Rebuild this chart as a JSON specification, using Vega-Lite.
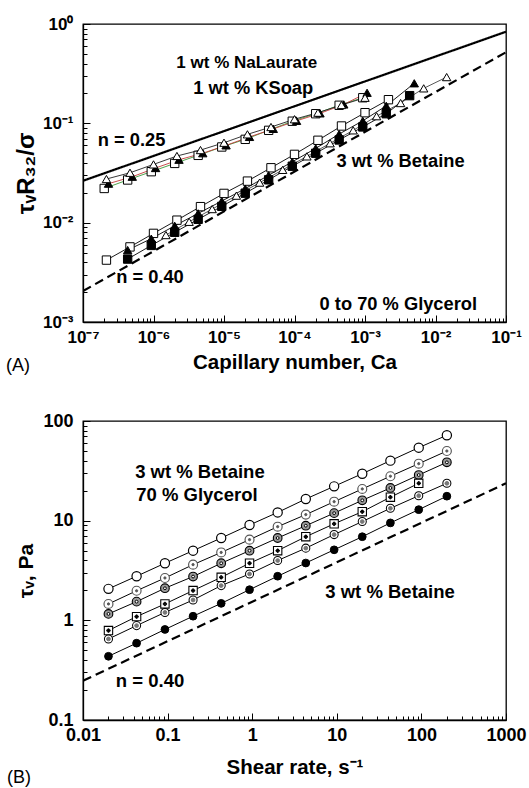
{
  "$schema": "https://vega.github.io/schema/vega-lite/v6.json",
  "padding": {"left": 5, "top": 14, "right": 5, "bottom": 5},
  "spacing": 35,
  "resolve": {"scale": {"shape": "independent", "fill": "independent", "stroke": "independent", "size": "independent", "strokeWidth": "independent", "color": "independent", "strokeDash": "independent"}},
  "config": {
    "font": "Liberation Sans",
    "view": {"stroke": "black", "strokeWidth": 1.3},
    "axis": {
      "domainColor": "black", "domainWidth": 1.3, "tickColor": "black", "tickWidth": 1,
      "labelColor": "black", "titleColor": "black", "labelFont": "Liberation Sans", "titleFont": "Liberation Sans",
      "labelFontWeight": "bold", "labelFontSize": 17, "titleFontWeight": "bold", "titleFontSize": 20,
      "grid": false, "labelFlush": false, "labelOverlap": false
    }
  },
  "datasets": {
    "topLines": [
      {"name": "n025", "x": 1e-7, "y": 0.0264}, {"name": "n025", "x": 0.1, "y": 0.836},
      {"name": "n040", "x": 1e-7, "y": 0.00205}, {"name": "n040", "x": 0.1, "y": 0.52}
    ],
    "topPts": [
      {"s": "Ub", "x": 2e-7, "y": 0.0221}, {"s": "Ub", "x": 4.3e-7, "y": 0.0269}, {"s": "Ub", "x": 9.3e-7, "y": 0.0326}, {"s": "Ub", "x": 2e-6, "y": 0.0395}, {"s": "Ub", "x": 4.3e-6, "y": 0.0476}, {"s": "Ub", "x": 9.3e-6, "y": 0.0578}, {"s": "Ub", "x": 2e-5, "y": 0.069}, {"s": "Ub", "x": 4.3e-5, "y": 0.085}, {"s": "Ub", "x": 9.3e-5, "y": 0.105}, {"s": "Ub", "x": 2e-4, "y": 0.125}, {"s": "Ub", "x": 4.3e-4, "y": 0.152}, {"s": "Ub", "x": 9.3e-4, "y": 0.181},
      {"s": "Uc", "x": 2.3e-7, "y": 0.0247}, {"s": "Uc", "x": 5e-7, "y": 0.029}, {"s": "Uc", "x": 1.07e-6, "y": 0.0355}, {"s": "Uc", "x": 2.3e-6, "y": 0.043}, {"s": "Uc", "x": 5e-6, "y": 0.05}, {"s": "Uc", "x": 1.07e-5, "y": 0.06}, {"s": "Uc", "x": 2.3e-5, "y": 0.073}, {"s": "Uc", "x": 5e-5, "y": 0.088}, {"s": "Uc", "x": 1.07e-4, "y": 0.106}, {"s": "Uc", "x": 2.3e-4, "y": 0.126}, {"s": "Uc", "x": 5e-4, "y": 0.155}, {"s": "Uc", "x": 1.07e-3, "y": 0.203},
      {"s": "Ua", "x": 2.15e-7, "y": 0.0275}, {"s": "Ua", "x": 4.64e-7, "y": 0.0318}, {"s": "Ua", "x": 1e-6, "y": 0.0386}, {"s": "Ua", "x": 2.15e-6, "y": 0.0469}, {"s": "Ua", "x": 4.64e-6, "y": 0.0538}, {"s": "Ua", "x": 1e-5, "y": 0.0638}, {"s": "Ua", "x": 2.15e-5, "y": 0.0775}, {"s": "Ua", "x": 4.64e-5, "y": 0.0918}, {"s": "Ua", "x": 1e-4, "y": 0.11}, {"s": "Ua", "x": 2.15e-4, "y": 0.128}, {"s": "Ua", "x": 4.64e-4, "y": 0.153}, {"s": "Ua", "x": 1e-3, "y": 0.181},
      {"s": "Ld", "x": 1.5e-6, "y": 0.0075}, {"s": "Ld", "x": 3.2e-6, "y": 0.0102}, {"s": "Ld", "x": 6.8e-6, "y": 0.0137}, {"s": "Ld", "x": 1.5e-5, "y": 0.0187}, {"s": "Ld", "x": 3.2e-5, "y": 0.0253}, {"s": "Ld", "x": 6.8e-5, "y": 0.034}, {"s": "Ld", "x": 1.5e-4, "y": 0.0465}, {"s": "Ld", "x": 3.2e-4, "y": 0.063}, {"s": "Ld", "x": 6.8e-4, "y": 0.085}, {"s": "Ld", "x": 1.46e-3, "y": 0.118}, {"s": "Ld", "x": 3.2e-3, "y": 0.16}, {"s": "Ld", "x": 6.8e-3, "y": 0.225}, {"s": "Ld", "x": 1.44e-2, "y": 0.292},
      {"s": "La", "x": 2.15e-7, "y": 0.0042}, {"s": "La", "x": 4.64e-7, "y": 0.0057}, {"s": "La", "x": 1e-6, "y": 0.0078}, {"s": "La", "x": 2.15e-6, "y": 0.0106}, {"s": "La", "x": 4.64e-6, "y": 0.0145}, {"s": "La", "x": 1e-5, "y": 0.0197}, {"s": "La", "x": 2.15e-5, "y": 0.0262}, {"s": "La", "x": 4.64e-5, "y": 0.0357}, {"s": "La", "x": 1e-4, "y": 0.0487}, {"s": "La", "x": 2.15e-4, "y": 0.0675}, {"s": "La", "x": 4.64e-4, "y": 0.094}, {"s": "La", "x": 1e-3, "y": 0.128}, {"s": "La", "x": 2.15e-3, "y": 0.173},
      {"s": "Lc", "x": 4.3e-7, "y": 0.0043}, {"s": "Lc", "x": 9.3e-7, "y": 0.0059}, {"s": "Lc", "x": 2e-6, "y": 0.008}, {"s": "Lc", "x": 4.3e-6, "y": 0.0108}, {"s": "Lc", "x": 9.3e-6, "y": 0.0146}, {"s": "Lc", "x": 2e-5, "y": 0.0198}, {"s": "Lc", "x": 4.3e-5, "y": 0.027}, {"s": "Lc", "x": 9.3e-5, "y": 0.037}, {"s": "Lc", "x": 2e-4, "y": 0.05}, {"s": "Lc", "x": 4.3e-4, "y": 0.068}, {"s": "Lc", "x": 9.3e-4, "y": 0.092}, {"s": "Lc", "x": 2e-3, "y": 0.125}, {"s": "Lc", "x": 4.3e-3, "y": 0.19},
      {"s": "Lb", "x": 4.3e-7, "y": 0.0053}, {"s": "Lb", "x": 9.3e-7, "y": 0.0069}, {"s": "Lb", "x": 2e-6, "y": 0.0093}, {"s": "Lb", "x": 4.3e-6, "y": 0.0124}, {"s": "Lb", "x": 9.3e-6, "y": 0.0165}, {"s": "Lb", "x": 2e-5, "y": 0.022}, {"s": "Lb", "x": 4.3e-5, "y": 0.03}, {"s": "Lb", "x": 9.3e-5, "y": 0.041}, {"s": "Lb", "x": 2e-4, "y": 0.056}, {"s": "Lb", "x": 4.3e-4, "y": 0.078}, {"s": "Lb", "x": 9.3e-4, "y": 0.106}, {"s": "Lb", "x": 2e-3, "y": 0.15}, {"s": "Lb", "x": 5e-3, "y": 0.253}
    ],
    "topText": [
      {"label": "1 wt % NaLaurate", "x": 2.1e-5, "y": 0.408},
      {"label": "1 wt % KSoap", "x": 2.6e-5, "y": 0.22},
      {"label": "n = 0.25", "x": 4.9e-7, "y": 0.0664},
      {"label": "3 wt % Betaine", "x": 3.2e-3, "y": 0.0407},
      {"label": "n = 0.40", "x": 8.9e-7, "y": 0.00275},
      {"label": "0 to 70 % Glycerol", "x": 2.97e-3, "y": 0.0015}
    ],
    "botLine": [
      {"name": "n040", "x": 0.01, "y": 0.248}, {"name": "n040", "x": 1000, "y": 23.7}
    ],
    "botPts": [
      {"s": "b1", "x": 0.02, "y": 2.07}, {"s": "b1", "x": 0.043, "y": 2.77}, {"s": "b1", "x": 0.093, "y": 3.74}, {"s": "b1", "x": 0.2, "y": 5.0}, {"s": "b1", "x": 0.43, "y": 6.7}, {"s": "b1", "x": 0.93, "y": 9.05}, {"s": "b1", "x": 2, "y": 12.1}, {"s": "b1", "x": 4.3, "y": 16.5}, {"s": "b1", "x": 9.3, "y": 22.1}, {"s": "b1", "x": 20, "y": 29.6}, {"s": "b1", "x": 43, "y": 40}, {"s": "b1", "x": 93, "y": 54}, {"s": "b1", "x": 200, "y": 72},
      {"s": "b2", "x": 0.02, "y": 1.46}, {"s": "b2", "x": 0.043, "y": 1.98}, {"s": "b2", "x": 0.093, "y": 2.66}, {"s": "b2", "x": 0.2, "y": 3.62}, {"s": "b2", "x": 0.43, "y": 4.8}, {"s": "b2", "x": 0.93, "y": 6.45}, {"s": "b2", "x": 2, "y": 8.7}, {"s": "b2", "x": 4.3, "y": 11.5}, {"s": "b2", "x": 9.3, "y": 15.5}, {"s": "b2", "x": 20, "y": 20.8}, {"s": "b2", "x": 43, "y": 27.9}, {"s": "b2", "x": 93, "y": 37.3}, {"s": "b2", "x": 200, "y": 50},
      {"s": "b3", "x": 0.02, "y": 1.16}, {"s": "b3", "x": 0.043, "y": 1.54}, {"s": "b3", "x": 0.093, "y": 2.1}, {"s": "b3", "x": 0.2, "y": 2.75}, {"s": "b3", "x": 0.43, "y": 3.74}, {"s": "b3", "x": 0.93, "y": 5.0}, {"s": "b3", "x": 2, "y": 6.7}, {"s": "b3", "x": 4.3, "y": 8.9}, {"s": "b3", "x": 9.3, "y": 11.9}, {"s": "b3", "x": 20, "y": 16}, {"s": "b3", "x": 43, "y": 21.3}, {"s": "b3", "x": 93, "y": 28.7}, {"s": "b3", "x": 200, "y": 38.5},
      {"s": "b4", "x": 0.02, "y": 0.79}, {"s": "b4", "x": 0.043, "y": 1.09}, {"s": "b4", "x": 0.093, "y": 1.46}, {"s": "b4", "x": 0.2, "y": 1.99}, {"s": "b4", "x": 0.43, "y": 2.7}, {"s": "b4", "x": 0.93, "y": 3.74}, {"s": "b4", "x": 2, "y": 5.0}, {"s": "b4", "x": 4.3, "y": 6.9}, {"s": "b4", "x": 9.3, "y": 9.3}, {"s": "b4", "x": 20, "y": 12.3}, {"s": "b4", "x": 43, "y": 17.2}, {"s": "b4", "x": 93, "y": 23.7},
      {"s": "b5", "x": 0.02, "y": 0.65}, {"s": "b5", "x": 0.043, "y": 0.885}, {"s": "b5", "x": 0.093, "y": 1.2}, {"s": "b5", "x": 0.2, "y": 1.6}, {"s": "b5", "x": 0.43, "y": 2.23}, {"s": "b5", "x": 0.93, "y": 2.92}, {"s": "b5", "x": 2, "y": 3.98}, {"s": "b5", "x": 4.3, "y": 5.3}, {"s": "b5", "x": 9.3, "y": 7.25}, {"s": "b5", "x": 20, "y": 9.8}, {"s": "b5", "x": 43, "y": 13.3}, {"s": "b5", "x": 93, "y": 17.8}, {"s": "b5", "x": 200, "y": 23.7},
      {"s": "b6", "x": 0.02, "y": 0.436}, {"s": "b6", "x": 0.043, "y": 0.59}, {"s": "b6", "x": 0.093, "y": 0.81}, {"s": "b6", "x": 0.2, "y": 1.1}, {"s": "b6", "x": 0.43, "y": 1.48}, {"s": "b6", "x": 0.93, "y": 2.03}, {"s": "b6", "x": 2, "y": 2.77}, {"s": "b6", "x": 4.3, "y": 3.76}, {"s": "b6", "x": 9.3, "y": 5.1}, {"s": "b6", "x": 20, "y": 6.9}, {"s": "b6", "x": 43, "y": 9.5}, {"s": "b6", "x": 93, "y": 12.9}, {"s": "b6", "x": 200, "y": 17.6}
    ],
    "botText": [
      {"label": "3 wt % Betaine", "x": 0.241, "y": 30.6},
      {"label": "70 % Glycerol", "x": 0.222, "y": 18.1},
      {"label": "3 wt % Betaine", "x": 42.6, "y": 1.91},
      {"label": "n = 0.40", "x": 0.062, "y": 0.245}
    ]
  },
  "vconcat": [
    {
      "width": 423, "height": 298,
      "title": {"text": "(A)", "orient": "bottom", "anchor": "start", "frame": "bounds", "offset": -16, "dx": -8, "fontSize": 18, "fontWeight": "normal", "font": "Liberation Sans"},
      "layer": [
        {
          "data": {"name": "topLines"},
          "mark": {"type": "line", "strokeWidth": 2.2, "color": "black", "clip": true},
          "encoding": {
            "x": {"field": "x", "type": "quantitative", "scale": {"type": "log", "domain": [1e-7, 0.1]},
              "axis": {"title": "Capillary number, Ca", "titleFontSize": 20.5, "titlePadding": 4, "labelPadding": 14, "labelFontSize": 17,
                "values": [1e-7,2e-7,3e-7,4e-7,5e-7,6e-7,7e-7,8e-7,9e-7,1e-6,2e-6,3e-6,4e-6,5e-6,6e-6,7e-6,8e-6,9e-6,1e-5,2e-5,3e-5,4e-5,5e-5,6e-5,7e-5,8e-5,9e-5,1e-4,2e-4,3e-4,4e-4,5e-4,6e-4,7e-4,8e-4,9e-4,0.001,0.002,0.003,0.004,0.005,0.006,0.007,0.008,0.009,0.01,0.02,0.03,0.04,0.05,0.06,0.07,0.08,0.09,0.1],
                "tickSize": {"condition": {"test": "abs(log(datum.value)/LN10 - round(log(datum.value)/LN10)) < 0.001", "value": -7}, "value": -4},
                "labelExpr": "abs(log(datum.value)/LN10 - round(log(datum.value)/LN10)) < 0.001 ? ['10⁻⁷','10⁻⁶','10⁻⁵','10⁻⁴','10⁻³','10⁻²','10⁻¹'][round(log(datum.value)/LN10)+7] : ''"}},
            "y": {"field": "y", "type": "quantitative", "scale": {"type": "log", "domain": [0.001, 1]},
              "axis": {"title": "τᵥR₃₂/σ", "titlePadding": 3, "labelPadding": 17, "labelFontSize": 17, "minExtent": 42, "maxExtent": 42, "titleFontSize": 24,
                "values": [0.001,0.002,0.003,0.004,0.005,0.006,0.007,0.008,0.009,0.01,0.02,0.03,0.04,0.05,0.06,0.07,0.08,0.09,0.1,0.2,0.3,0.4,0.5,0.6,0.7,0.8,0.9,1],
                "tickSize": {"condition": {"test": "abs(log(datum.value)/LN10 - round(log(datum.value)/LN10)) < 0.001", "value": -7}, "value": -4},
                "labelExpr": "abs(log(datum.value)/LN10 - round(log(datum.value)/LN10)) < 0.001 ? ['10⁻³','10⁻²','10⁻¹','10⁰'][round(log(datum.value)/LN10)+3] : ''"}},
            "detail": {"field": "name"},
            "strokeDash": {"field": "name", "type": "nominal", "scale": {"domain": ["n025", "n040"], "range": [[1, 0], [9, 5]]}, "legend": null}
          }
        },
        {
          "data": {"name": "topPts"},
          "mark": {"type": "line", "strokeWidth": 0.9},
          "encoding": {
            "x": {"field": "x", "type": "quantitative"},
            "y": {"field": "y", "type": "quantitative"},
            "color": {"field": "s", "type": "nominal", "scale": {"domain": ["Ua", "Ub", "Uc", "La", "Lb", "Lc", "Ld"], "range": ["#222222", "#3a9a3a", "#c23b3b", "#000000", "#000000", "#000000", "#444444"]}, "legend": null}
          }
        },
        {
          "data": {"name": "topPts"},
          "mark": {"type": "point", "filled": true, "opacity": 1, "stroke": "black", "strokeWidth": 1},
          "encoding": {
            "x": {"field": "x", "type": "quantitative"},
            "y": {"field": "y", "type": "quantitative"},
            "shape": {"field": "s", "type": "nominal", "scale": {"domain": ["Ua", "Ub", "Uc", "La", "Lb", "Lc", "Ld"], "range": ["triangle-up", "square", "triangle-up", "square", "triangle-up", "square", "triangle-up"]}, "legend": null},
            "fill": {"field": "s", "type": "nominal", "scale": {"domain": ["Ua", "Ub", "Uc", "La", "Lb", "Lc", "Ld"], "range": ["white", "white", "black", "white", "black", "black", "white"]}, "legend": null},
            "size": {"value": 70}
          }
        },
        {
          "data": {"name": "topText"},
          "transform": [{"filter": "datum.label == '1 wt % NaLaurate'"}],
          "mark": {"type": "text", "fontWeight": "bold", "fontSize": 17, "color": "black"},
          "encoding": {
            "x": {"field": "x", "type": "quantitative"},
            "y": {"field": "y", "type": "quantitative"},
            "text": {"field": "label"}
          }
        },
        {
          "data": {"name": "topText"},
          "transform": [{"filter": "datum.label != '1 wt % NaLaurate'"}],
          "mark": {"type": "text", "fontWeight": "bold", "fontSize": 18.3, "color": "black"},
          "encoding": {
            "x": {"field": "x", "type": "quantitative"},
            "y": {"field": "y", "type": "quantitative"},
            "text": {"field": "label"}
          }
        }
      ]
    },
    {
      "width": 423, "height": 299,
      "title": {"text": "(B)", "orient": "bottom", "anchor": "start", "frame": "bounds", "offset": -9, "dx": -8, "fontSize": 18, "fontWeight": "normal", "font": "Liberation Sans"},
      "resolve": {"scale": {"shape": "independent", "fill": "independent", "stroke": "independent", "size": "independent", "strokeWidth": "independent"}},
      "layer": [
        {
          "data": {"name": "botLine"},
          "mark": {"type": "line", "strokeWidth": 2.2, "color": "black", "strokeDash": [9, 5], "clip": true},
          "encoding": {
            "x": {"field": "x", "type": "quantitative", "scale": {"type": "log", "domain": [0.01, 1000]},
              "axis": {"title": "Shear rate, s⁻¹", "titleFontSize": 20.5, "titlePadding": 10, "labelPadding": 13, "labelFontSize": 18,
                "values": [0.01,0.02,0.03,0.04,0.05,0.06,0.07,0.08,0.09,0.1,0.2,0.3,0.4,0.5,0.6,0.7,0.8,0.9,1,2,3,4,5,6,7,8,9,10,20,30,40,50,60,70,80,90,100,200,300,400,500,600,700,800,900,1000],
                "tickSize": {"condition": {"test": "abs(log(datum.value)/LN10 - round(log(datum.value)/LN10)) < 0.001", "value": -7}, "value": -4},
                "labelExpr": "abs(log(datum.value)/LN10 - round(log(datum.value)/LN10)) < 0.001 ? ['0.01','0.1','1','10','100','1000'][round(log(datum.value)/LN10)+2] : ''"}},
            "y": {"field": "y", "type": "quantitative", "scale": {"type": "log", "domain": [0.1, 100]},
              "axis": {"title": "τᵥ, Pa", "titlePadding": 5, "labelPadding": 17, "labelFontSize": 18, "minExtent": 42, "maxExtent": 42, "titleFontSize": 21,
                "values": [0.1,0.2,0.3,0.4,0.5,0.6,0.7,0.8,0.9,1,2,3,4,5,6,7,8,9,10,20,30,40,50,60,70,80,90,100],
                "tickSize": {"condition": {"test": "abs(log(datum.value)/LN10 - round(log(datum.value)/LN10)) < 0.001", "value": -7}, "value": -4},
                "labelExpr": "abs(log(datum.value)/LN10 - round(log(datum.value)/LN10)) < 0.001 ? ['0.1','1','10','100'][round(log(datum.value)/LN10)+1] : ''"}}
          }
        },
        {
          "data": {"name": "botPts"},
          "mark": {"type": "line", "strokeWidth": 1, "color": "black"},
          "encoding": {
            "x": {"field": "x", "type": "quantitative"},
            "y": {"field": "y", "type": "quantitative"},
            "detail": {"field": "s"}
          }
        },
        {
          "data": {"name": "botPts"},
          "mark": {"type": "point", "filled": true, "opacity": 1},
          "encoding": {
            "x": {"field": "x", "type": "quantitative"},
            "y": {"field": "y", "type": "quantitative"},
            "shape": {"field": "s", "type": "nominal", "scale": {"domain": ["b1", "b2", "b3", "b4", "b5", "b6"], "range": ["circle", "circle", "circle", "square", "circle", "circle"]}, "legend": null},
            "fill": {"field": "s", "type": "nominal", "scale": {"domain": ["b1", "b2", "b3", "b4", "b5", "b6"], "range": ["white", "white", "#9a9a9a", "white", "white", "black"]}, "legend": null},
            "stroke": {"field": "s", "type": "nominal", "scale": {"domain": ["b1", "b2", "b3", "b4", "b5", "b6"], "range": ["black", "#555555", "black", "black", "black", "black"]}, "legend": null},
            "strokeWidth": {"field": "s", "type": "nominal", "scale": {"domain": ["b1", "b2", "b3", "b4", "b5", "b6"], "range": [1.2, 1, 1.6, 2, 2.4, 1]}, "legend": null},
            "size": {"field": "s", "type": "nominal", "scale": {"domain": ["b1", "b2", "b3", "b4", "b5", "b6"], "range": [85, 60, 70, 55, 65, 75]}, "legend": null}
          }
        },
        {
          "data": {"name": "botPts"},
          "transform": [{"filter": "indexof(['b2','b3','b4','b5'], datum.s) >= 0"}],
          "mark": {"type": "point", "filled": true, "opacity": 1},
          "encoding": {
            "x": {"field": "x", "type": "quantitative"},
            "y": {"field": "y", "type": "quantitative"},
            "shape": {"field": "s", "type": "nominal", "scale": {"domain": ["b2", "b3", "b4", "b5"], "range": ["circle", "circle", "cross", "circle"]}, "legend": null},
            "fill": {"field": "s", "type": "nominal", "scale": {"domain": ["b2", "b3", "b4", "b5"], "range": ["#555555", "white", "black", "#777777"]}, "legend": null},
            "stroke": {"field": "s", "type": "nominal", "scale": {"domain": ["b2", "b3", "b4", "b5"], "range": ["#555555", "black", "black", "#777777"]}, "legend": null},
            "strokeWidth": {"value": 1},
            "size": {"field": "s", "type": "nominal", "scale": {"domain": ["b2", "b3", "b4", "b5"], "range": [5, 14, 12, 6]}, "legend": null}
          }
        },
        {
          "data": {"name": "botText"},
          "mark": {"type": "text", "fontWeight": "bold", "fontSize": 18.5, "color": "black"},
          "encoding": {
            "x": {"field": "x", "type": "quantitative"},
            "y": {"field": "y", "type": "quantitative"},
            "text": {"field": "label"}
          }
        }
      ]
    }
  ]
}
